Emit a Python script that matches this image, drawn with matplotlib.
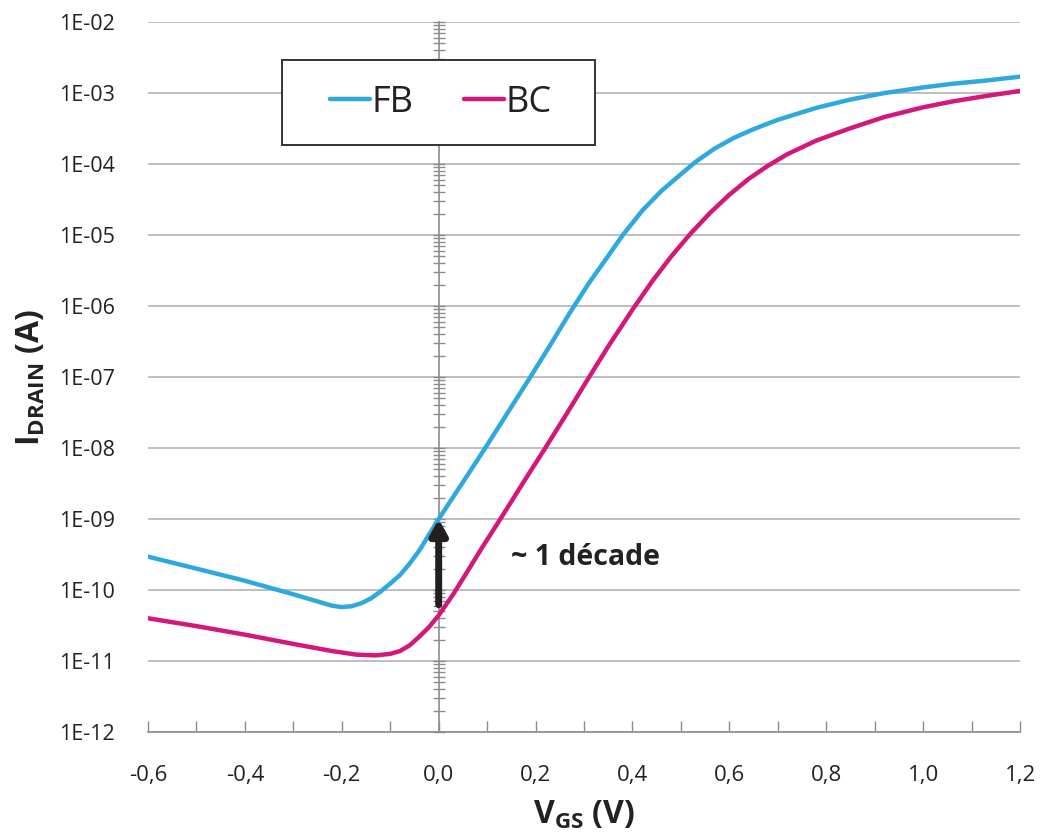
import numpy as np
import matplotlib
matplotlib.use("Agg")
import matplotlib.pyplot as plt
from matplotlib.patches import Rectangle
from matplotlib.ticker import FixedLocator, FuncFormatter, NullLocator

plt.rcParams['font.family'] = ['Open Sans', 'DejaVu Sans']
plt.rcParams['mathtext.fontset'] = 'custom'
plt.rcParams['mathtext.rm'] = 'Open Sans'
plt.rcParams['mathtext.bf'] = 'Open Sans:bold'

# V_GS (V) and drain current (A)
vgs_fb = [-0.60, -0.50, -0.40, -0.30, -0.25, -0.22, -0.20, -0.18, -0.16, -0.14,
          -0.12, -0.10, -0.08, -0.06, -0.04, -0.02, 0.00, 0.05, 0.10, 0.15,
          0.19, 0.23, 0.27, 0.31, 0.35, 0.38, 0.42, 0.46, 0.50, 0.53,
          0.57, 0.61, 0.65, 0.70, 0.78, 0.85, 0.92, 1.00, 1.06, 1.13, 1.20]
id_fb = [2.95e-10, 2.0e-10, 1.35e-10, 8.7e-11, 6.9e-11, 6.0e-11, 5.75e-11, 5.9e-11, 6.5e-11, 7.6e-11,
         9.5e-11, 1.23e-10, 1.62e-10, 2.35e-10, 3.6e-10, 6.0e-10, 1.0e-9, 3.3e-9, 1.1e-8, 3.8e-8,
         1.02e-7, 2.8e-7, 7.9e-7, 2.1e-6, 5.1e-6, 1.0e-5, 2.2e-5, 4.2e-5, 7.2e-5, 1.07e-4,
         1.66e-4, 2.35e-4, 3.1e-4, 4.2e-4, 6.2e-4, 8.1e-4, 1.0e-3, 1.2e-3, 1.35e-3, 1.5e-3, 1.7e-3]

vgs_bc = [-0.60, -0.50, -0.40, -0.30, -0.22, -0.17, -0.13, -0.10, -0.08, -0.06,
          -0.04, -0.02, 0.00, 0.03, 0.06, 0.09, 0.13, 0.175, 0.22, 0.265,
          0.306, 0.35, 0.40, 0.44, 0.48, 0.52, 0.56, 0.60, 0.64, 0.68,
          0.72, 0.78, 0.85, 0.92, 1.00, 1.06, 1.13, 1.20]
id_bc = [4.0e-11, 3.1e-11, 2.35e-11, 1.74e-11, 1.38e-11, 1.23e-11, 1.2e-11, 1.26e-11, 1.38e-11, 1.66e-11,
         2.2e-11, 3.0e-11, 4.4e-11, 8.7e-11, 1.86e-10, 4.0e-10, 1.07e-9, 3.3e-9, 1.0e-8, 3.1e-8,
         8.9e-8, 2.7e-7, 8.9e-7, 2.2e-6, 5.0e-6, 1.05e-5, 2.05e-5, 3.7e-5, 6.2e-5, 9.5e-5,
         1.38e-4, 2.15e-4, 3.2e-4, 4.6e-4, 6.3e-4, 7.6e-4, 9.1e-4, 1.07e-3]

labels = ["FB", "BC"]
colors = ["#2EA9DF", "#D3177B"]

y_decades = [1e-12, 1e-11, 1e-10, 1e-9, 1e-8, 1e-7, 1e-6, 1e-5, 1e-4, 1e-3, 1e-2]
x_labelled = [-0.6, -0.4, -0.2, 0.0, 0.2, 0.4, 0.6, 0.8, 1.0, 1.2]
x_between = [-0.5, -0.3, -0.1, 0.1, 0.3, 0.5, 0.7, 0.9, 1.1]

# arrow showing the shift at V_GS = 0
arrow_v = 0.0
arrow_from = 6.2e-11
arrow_to = 1.0e-9
note_text = "~ 1 décade"
note_pos = (0.15, 2.9e-10)

fig = plt.figure(figsize=(10.42, 8.38), dpi=100)
ax = fig.add_axes([0.142, 0.1265, 0.837, 0.8472])

ax.plot(vgs_fb, id_fb, color=colors[0], lw=3.2, label=labels[0], zorder=4,
        solid_capstyle='round', solid_joinstyle='round')
ax.plot(vgs_bc, id_bc, color=colors[1], lw=3.2, label=labels[1], zorder=4,
        solid_capstyle='round', solid_joinstyle='round')

ax.set_yscale('log')
ax.set_xlim(-0.6, 1.2)
ax.set_ylim(1e-12, 1e-2)

ax.yaxis.set_major_locator(FixedLocator(y_decades))
minors = [m * d for d in y_decades[:-1] for m in range(2, 10)]
ax.yaxis.set_minor_locator(FixedLocator(minors))

# horizontal grid only
ax.yaxis.grid(True, which='major', color='#BEBEBE', lw=1.4, zorder=0)
ax.xaxis.grid(False)

for s in ['top', 'right']:
    ax.spines[s].set_visible(False)
ax.spines['left'].set_position(('data', 0))
for s in ['left', 'bottom']:
    ax.spines[s].set_color('#8C8C8C')
    ax.spines[s].set_linewidth(1.2)

ax.tick_params(axis='y', which='both', direction='inout', length=9, width=1.0,
               color='#8C8C8C', labelleft=False)

ax.xaxis.set_major_locator(FixedLocator(x_labelled))
ax.xaxis.set_minor_locator(FixedLocator(x_between))
ax.xaxis.set_major_formatter(FuncFormatter(lambda v, p: f"{v + 0.0:.1f}".replace('.', ',').replace('-0,0', '0,0')))
ax.tick_params(axis='x', which='both', direction='in', length=8, width=1.0,
               color='#8C8C8C', labelsize=16, pad=24, labelcolor='#222222')

# y tick labels sit at the left edge of the plot
sec = ax.secondary_yaxis('left')
sec.spines['left'].set_visible(False)
sec.yaxis.set_major_locator(FixedLocator(y_decades))
sec.yaxis.set_minor_locator(NullLocator())
sec.yaxis.set_major_formatter(FuncFormatter(lambda v, p: f"1E-{int(round(-np.log10(v))):02d}"))
sec.tick_params(axis='y', length=0, pad=24, labelsize=15.5, labelcolor='#222222')

ax.set_xlabel(r'$\mathbf{V_{GS}}$ (V)', fontsize=23, fontweight='bold', color='#222222', labelpad=9)
sec.set_ylabel(r'$\mathbf{I_{DRAIN}}$ (A)', fontsize=23, fontweight='bold', color='#222222', labelpad=8)

ax.annotate('', xy=(arrow_v, arrow_to), xytext=(arrow_v, arrow_from),
            arrowprops=dict(arrowstyle='-|>,head_width=0.5,head_length=0.9',
                            lw=5, color='#231F20', shrinkA=0, shrinkB=0), zorder=5)
ax.text(note_pos[0], note_pos[1], note_text, fontsize=20.5, fontweight='bold',
        color='#222222', va='center', ha='left')

# legend box
ax.add_patch(Rectangle((0.1537, 0.8268), 0.359, 0.1197, transform=ax.transAxes,
                       facecolor='white', edgecolor='#333333', lw=1.4, zorder=3))
leg = ax.legend(loc='center', bbox_to_anchor=(0.336, 0.8866), ncol=2, frameon=False,
                fontsize=26, handlelength=1.1, handletextpad=0.05, columnspacing=1.4)
leg.set_zorder(6)
for t in leg.get_texts():
    t.set_color('#222222')

fig.savefig('out.png', dpi=100)
